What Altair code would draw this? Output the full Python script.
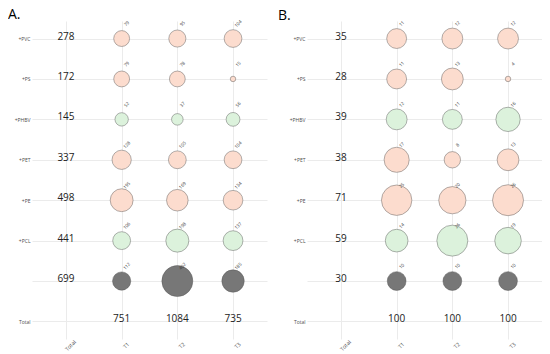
import altair as alt
import pandas as pd

# ---- data ----
rows = ["+PVC", "+PS", "+PHBV", "+PET", "+PE", "+PCL", "Control"]
row_group = ["conv", "conv", "bio", "conv", "conv", "bio", "ctrl"]
times = ["T1", "T2", "T3"]
x_domain = ["Total", "T1", "T2", "T3"]
y_domain = rows + ["Total"]

a_t1 = [79, 79, 52, 128, 195, 106, 112]
a_t2 = [95, 78, 37, 105, 169, 198, 402]
a_t3 = [104, 15, 56, 104, 134, 137, 185]
a_row_tot = [278, 172, 145, 337, 498, 441, 699]
a_col_tot = [751, 1084, 735]

b_t1 = [11, 11, 12, 17, 25, 14, 10]
b_t2 = [12, 13, 11, 8, 20, 26, 10]
b_t3 = [12, 4, 16, 13, 26, 19, 10]
b_row_tot = [35, 28, 39, 38, 71, 59, 30]
b_col_tot = [100, 100, 100]

group_domain = ["conv", "bio", "ctrl"]
group_colors = ["#FCDCCE", "#DCF2DC", "#777777"]

FONT = "Open Sans"
D0, D1 = 5.5, 31.0


def panel(title, t1, t2, t3, row_tot, col_tot, width, title_dx):
    recs = []
    for i, r in enumerate(rows):
        for t, vals in zip(times, (t1, t2, t3)):
            recs.append({"row": r, "col": t, "value": vals[i], "grp": row_group[i]})
    cells = pd.DataFrame(recs)
    vmin = int(cells["value"].min())
    vmax = int(cells["value"].max())

    row_df = pd.DataFrame({"row": rows, "col": ["Total"] * len(rows), "value": row_tot})
    col_df = pd.DataFrame({"row": ["Total"] * 3, "col": times, "value": col_tot})

    x = alt.X(
        "col:N",
        scale=alt.Scale(domain=x_domain, padding=0.61),
        axis=alt.Axis(
            title=None, ticks=False, domain=False, grid=True, gridColor="#EBEBEB",
            labelAngle=315, labelAlign="center", labelBaseline="middle",
            labelFontSize=5.5, labelColor="#4D4D4D", labelFont=FONT,
            labelPadding=6, labelOffset=4,
        ),
    )
    y = alt.Y(
        "row:N",
        scale=alt.Scale(domain=y_domain, padding=0.434),
        axis=alt.Axis(
            title=None, ticks=False, domain=False, grid=True, gridColor="#EBEBEB",
            labelFontSize=5, labelColor="#4D4D4D", labelFont=FONT, labelPadding=2,
            labelExpr="datum.value == 'Control' ? '' : datum.value",
        ),
    )

    circles = (
        alt.Chart(cells)
        .transform_calculate(
            d=f"{D0} + {D1 - D0} * sqrt((datum.value - {vmin}) / {vmax - vmin})"
        )
        .mark_circle(opacity=1, stroke="#555555", strokeWidth=0.6, strokeOpacity=0.75)
        .encode(
            x=x,
            y=y,
            color=alt.Color("grp:N", scale=alt.Scale(domain=group_domain, range=group_colors), legend=None),
            size=alt.Size("d:Q", scale=alt.Scale(type="pow", exponent=2, domain=[0, 31], range=[0, 961]), legend=None),
        )
    )
    labels = (
        alt.Chart(cells)
        .mark_text(angle=315, fontSize=4.5, xOffset=5.5, yOffset=-14.5, color="#333333",
                   font=FONT, align="center", baseline="middle")
        .encode(x=x, y=y, text="value:Q")
    )
    rtot = (
        alt.Chart(row_df)
        .mark_text(fontSize=10, baseline="alphabetic", dy=1, color="#222222", font=FONT)
        .encode(x=x, y=y, text="value:Q")
    )
    ctot = (
        alt.Chart(col_df)
        .mark_text(fontSize=10, baseline="alphabetic", dy=1, color="#222222", font=FONT)
        .encode(x=x, y=y, text="value:Q")
    )
    return alt.layer(circles, labels, rtot, ctot).properties(
        width=width,
        height=318,
        title=alt.TitleParams(title, anchor="start", frame="group", dx=title_dx, fontSize=14,
                              fontWeight="normal", offset=-3, color="#000000", font=FONT),
    )


pa = panel("A.", a_t1, a_t2, a_t3, a_row_tot, a_col_tot, 235, -24)
pb = panel("B.", b_t1, b_t2, b_t3, b_row_tot, b_col_tot, 235, -29)

chart = (
    alt.hconcat(pa, pb, spacing=11)
    .properties(padding=0, background="white")
    .configure_view(strokeWidth=0, stroke="transparent")
)

chart.save("out.html", embed_options={"renderer": "svg", "actions": False})
